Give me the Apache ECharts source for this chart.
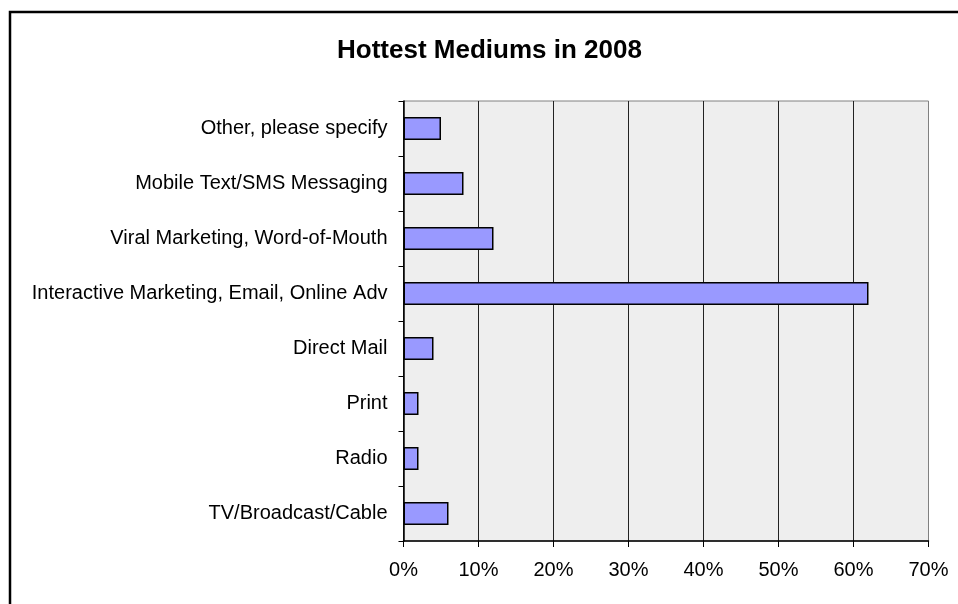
<!DOCTYPE html>
<html>
<head>
<meta charset="utf-8">
<script src="https://cdn.jsdelivr.net/npm/echarts@6/dist/echarts.min.js"></script>
<style>
  html, body { margin: 0; padding: 0; background: #ffffff; }
  #chart { width: 958px; height: 604px; }
</style>
</head>
<body>
<div id="chart"></div>
<script>
// Survey categories, top to bottom
var categories = [
  'Other, please specify',
  'Mobile Text/SMS Messaging',
  'Viral Marketing, Word-of-Mouth',
  'Interactive Marketing, Email, Online Adv',
  'Direct Mail',
  'Print',
  'Radio',
  'TV/Broadcast/Cable'
];
// Share of respondents (%)
var shares = [5, 8, 12, 62, 4, 2, 2, 6];
var valueTicks = [0, 10, 20, 30, 40, 50, 60, 70];

var FONT = '"Liberation Sans", Arial, sans-serif';

var chart = echarts.init(document.getElementById('chart'), null, { renderer: 'canvas' });

chart.setOption({
  backgroundColor: '#ffffff',
  animation: false,
  title: {
    text: 'Hottest Mediums in 2008',
    left: 332,
    top: 33,
    textStyle: {
      fontFamily: FONT,
      fontSize: 26,
      fontWeight: 'bold',
      color: '#000000',
      lineHeight: 26
    }
  },
  graphic: [{
    type: 'rect',
    shape: { x: 10, y: 12, width: 1200, height: 1200 },
    style: { fill: 'none', stroke: '#000000', lineWidth: 2.5 },
    silent: true,
    z: 100
  }],
  grid: {
    left: 403.5,
    right: 29.5,
    top: 101,
    bottom: 63,
    show: true,
    backgroundColor: '#EEEEEE',
    borderColor: '#808080',
    borderWidth: 1
  },
  xAxis: {
    type: 'value',
    min: valueTicks[0],
    max: valueTicks[valueTicks.length - 1],
    interval: 10,
    axisLine: { show: true, onZero: false, lineStyle: { color: '#000000', width: 1.5 } },
    axisTick: { show: true, length: 6, lineStyle: { color: '#000000', width: 1 } },
    axisLabel: {
      margin: 19,
      fontFamily: FONT,
      fontSize: 20,
      color: '#000000',
      formatter: '{value}%'
    },
    splitLine: {
      show: true,
      lineStyle: {
        color: ['#222222', '#222222', '#222222', '#222222', '#222222', '#222222', '#222222', '#808080'],
        width: 1
      }
    }
  },
  yAxis: {
    type: 'category',
    data: categories,
    inverse: true,
    axisLine: { show: true, lineStyle: { color: '#000000', width: 1.5 } },
    axisTick: { show: true, length: 5, alignWithLabel: false, lineStyle: { color: '#000000', width: 1 } },
    axisLabel: {
      margin: 16,
      fontFamily: FONT,
      fontSize: 20,
      color: '#000000'
    },
    splitLine: { show: false }
  },
  series: [{
    type: 'bar',
    data: shares,
    barWidth: 23,
    itemStyle: {
      color: '#9999FF',
      borderColor: '#000000',
      borderWidth: 1.5
    }
  }]
});
</script>
</body>
</html>
